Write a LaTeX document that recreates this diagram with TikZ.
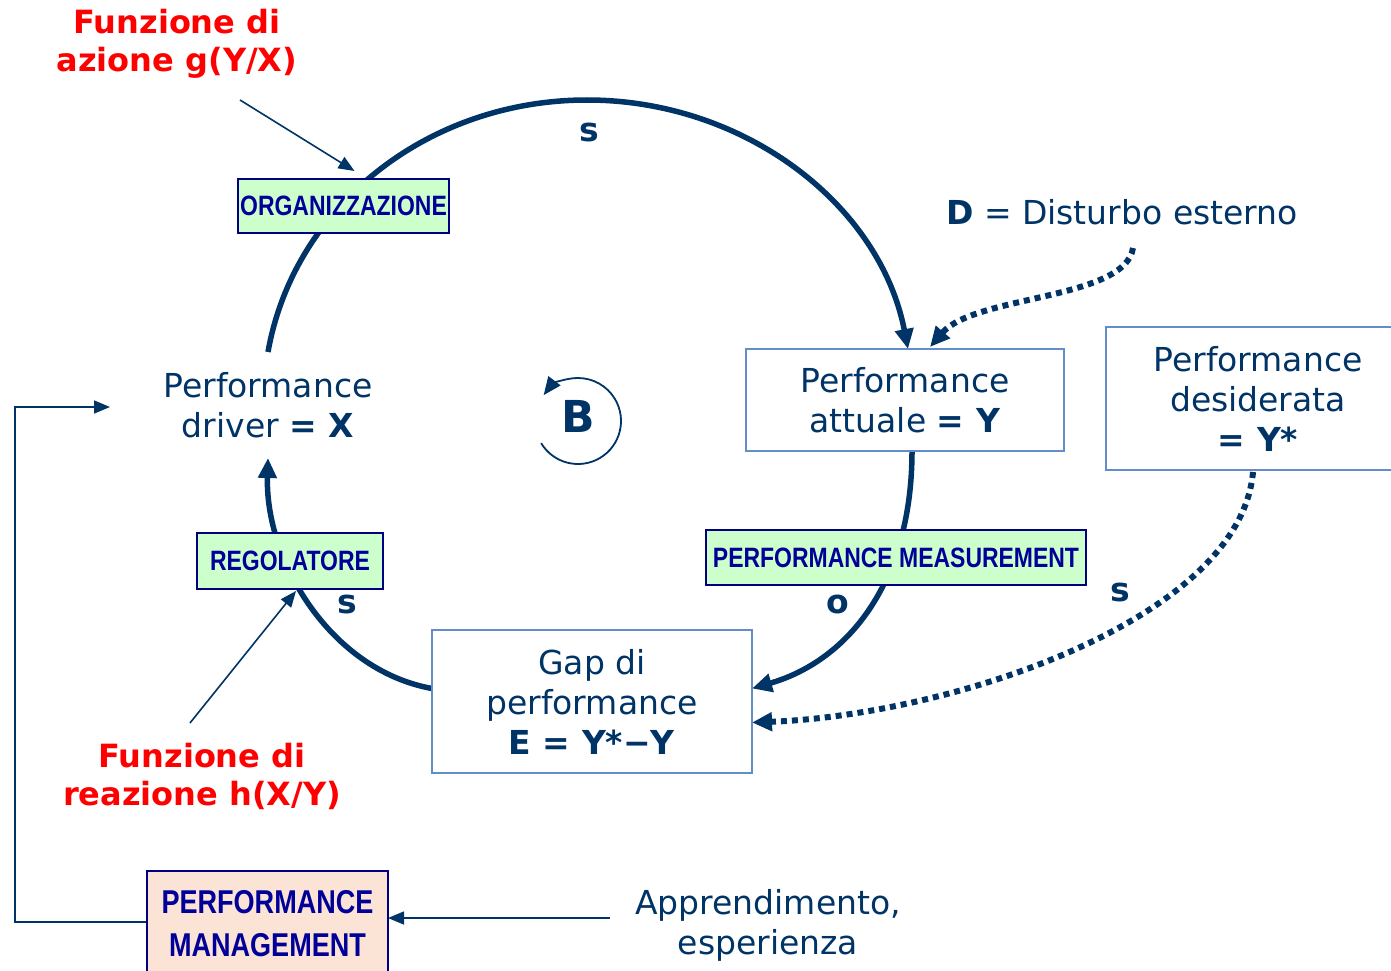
\documentclass[tikz,border=0pt]{standalone}
\usepackage{fontspec}
\setmainfont{DejaVu Sans}
\newfontfamily\narrowfont[FakeStretch=0.82]{Liberation Sans Bold}
\usetikzlibrary{arrows.meta,calc,backgrounds}

\definecolor{navy}{RGB}{0,51,102}
\definecolor{tagtext}{RGB}{0,0,153}
\definecolor{tagborder}{RGB}{0,0,128}
\definecolor{tagfill}{RGB}{204,255,204}
\definecolor{pmfill}{RGB}{251,228,213}
\definecolor{boxborder}{RGB}{100,140,200}
\definecolor{alert}{RGB}{255,0,0}

\begin{document}
\begin{tikzpicture}[x=1pt,y=-1pt,
  every node/.style={inner sep=0pt,outer sep=0pt},
  loopline/.style={draw=navy,line width=5.5pt,-{Triangle[length=20pt,width=18pt]}},
  thinarrow/.style={draw=navy,line width=1.6pt,-{Triangle[length=16pt,width=13pt]}},
  dotarrow/.style={draw=navy,line width=6pt,dash pattern=on 6pt off 5pt,-{Triangle[length=20pt,width=18pt]}},
  tag/.style={draw=tagborder,line width=1.8pt,fill=tagfill,text=tagtext,
    font=\narrowfont\fontsize{28}{32}\selectfont},
  valbox/.style={draw=boxborder,line width=1.5pt,fill=white,text=navy,align=center,
    font=\fontsize{33}{40}\selectfont},
  plaintext/.style={text=navy,align=center,font=\fontsize{33}{40}\selectfont},
  sign/.style={text=navy,font=\bfseries\fontsize{33}{40}\selectfont},
  redlbl/.style={text=alert,align=center,font=\bfseries\fontsize{32}{38}\selectfont},
]
\useasboundingbox (0,0) rectangle (1391,971);

% --- blocks of the loop ---
\node[plaintext,minimum height=106pt] (driver) at (268,405) {Performance\\driver \textbf{= X}};
\node[valbox,minimum width=318pt,minimum height=102pt] (attuale) at (905,400) {Performance\\attuale \textbf{= Y}};
\node[valbox,minimum width=304pt,minimum height=143pt] (des) at (1258,398.5) {Performance\\desiderata\\\textbf{= Y*}};
\node[valbox,minimum width=320pt,minimum height=143pt] (gap) at (592,701.5) {Gap di\\performance\\\textbf{E = Y*−Y}};

% --- green tags on the loop ---
\node[tag,minimum width=211pt,minimum height=54pt] (org) at (343.5,206) {ORGANIZZAZIONE};
\node[tag,minimum width=186pt,minimum height=56pt] (reg) at (290,561) {REGOLATORE};
\node[tag,minimum width=380pt,minimum height=55pt] (meas) at (896,557.5) {PERFORMANCE MEASUREMENT};
\node[tag,fill=pmfill,align=center,minimum width=241pt,minimum height=105pt,
  font=\narrowfont\fontsize{33}{43}\selectfont] (pm) at (267.5,923.5) {PERFORMANCE\\MANAGEMENT};

% --- labels ---
\node[sign] (s1) at (589,132) {s};
\node[sign] (s2) at (347,604) {s};
\node[sign] (s3) at (1120,592) {s};
\node[sign] (o1) at (838,604) {o};
\node[text=navy,font=\bfseries\fontsize{44}{44}\selectfont] (bl) at (578,416) {B};
\node[redlbl] (fa) at (177,44) {Funzione di\\azione g(Y/X)};
\node[redlbl] (fr) at (202,776) {Funzione di\\reazione h(X/Y)};
\node[plaintext] (dist) at (1122,212) {\textbf{D} = Disturbo esterno};
\node[plaintext] (app) at (768,925) {Apprendimento,\\esperienza};

% --- free ends of connectors ---
\coordinate (apex) at (587,100);
\coordinate (dstart) at (1133,248);
\coordinate (fatail) at (240,100);
\coordinate (frtail) at (190,723);
\coordinate (apptail) at (610,918);
\coordinate (fbcorner) at (15,922);
\coordinate (fbtip) at (110,407);

\begin{scope}[on background layer]
  % balancing loop
  \draw[loopline] (driver.north) .. controls (294,205) and (429,100) .. (apex)
        .. controls (745,100) and (880,205) .. ($(attuale.north)+(3,0)$);
  \draw[loopline] ($(attuale.south)+(7,0)$) .. controls (912,580) and (850,660) .. ($(gap.east)+(0,-13)$);
  \draw[loopline] ($(gap.west)+(0,-13)$) .. controls (330,670) and (265,560) .. (driver.south);
  % disturbance and target
  \draw[dotarrow] (dstart) .. controls (1125,300) and (975,295) .. ($(attuale.north)+(25,-2)$);
  \draw[dotarrow] ($(des.south)+(-5,2)$) .. controls (1240,620) and (950,715) .. ($(gap.east)+(0,21)$);
  % thin pointers
  \draw[thinarrow] (fatail) -- ($(org.north)+(11,-8)$);
  \draw[thinarrow] (frtail) -- ($(reg.south)+(6,2)$);
  \draw[thinarrow] (apptail) -- ($(pm.east)+(0,-5.5)$);
  \draw[thinarrow] ($(pm.west)+(0,-1.5)$) -- (fbcorner) |- (fbtip);
\end{scope}

% loop direction marker
\draw[navy,line width=1.8pt,-{Triangle[length=18pt,width=15pt]}]
  ($(bl)+(0,5)+(149:43)$) arc[start angle=149,end angle=-143,radius=43];
\end{tikzpicture}
\end{document}
